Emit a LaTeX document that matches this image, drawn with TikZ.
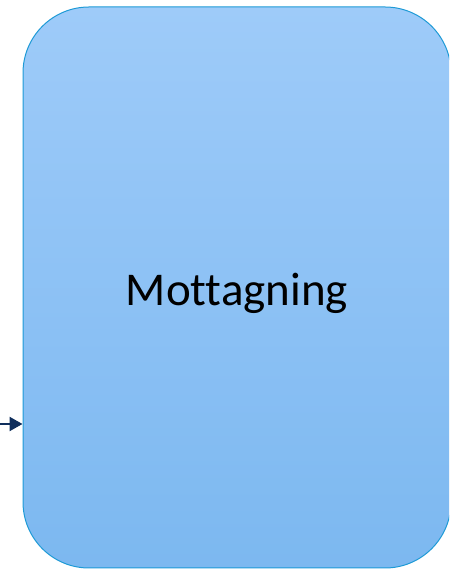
\documentclass[tikz,border=0pt]{standalone}
\usepackage{fontspec}
\setmainfont[Ligatures=NoCommon]{Carlito}
\usetikzlibrary{arrows.meta}
\definecolor{boxtop}{HTML}{9ECBF9}
\definecolor{boxbot}{HTML}{7CB8F0}
\definecolor{boxline}{HTML}{1E9AD6}
\definecolor{navy}{HTML}{0F2E5C}
\tikzset{
  bigbox/.style={draw=boxline, line width=1pt, rounded corners=66pt, top color=boxtop, bottom color=boxbot, minimum width=428pt, minimum height=561pt, inner sep=0pt},
  arr/.style={draw=navy, line width=2.3pt, -{Triangle[length=13pt,width=14pt]}},
  lbl/.style={font=\fontsize{47}{56}\selectfont, text=black, inner sep=0pt}
}
\begin{document}
\begin{tikzpicture}[x=1pt,y=1pt]
\clip (0,0) rectangle (449,569);
\useasboundingbox (0,0) rectangle (449,569);
\node[bigbox] (box) at (237,281.5) {};
\node[lbl] (txt) at (237,276) {Mottagning};
\coordinate (src) at (0,145);
\draw[arr] (src) -- (src -| box.west);
\end{tikzpicture}
\end{document}
